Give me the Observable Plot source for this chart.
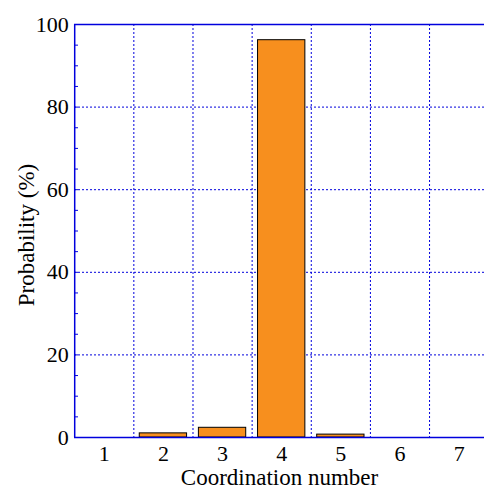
<!DOCTYPE html>
<html>
<head>
<meta charset="utf-8">
<script src="https://cdn.jsdelivr.net/npm/d3@7"></script>
<script src="https://cdn.jsdelivr.net/npm/@observablehq/plot@0.6"></script>
<style>
  html, body { margin: 0; padding: 0; background: #fff; }
  svg { display: block; }
</style>
</head>
<body>
<div id="chart"></div>
<script>
const coordination = [1, 2, 3, 4, 5, 6, 7];
const probability = [0, 1.0, 2.35, 96.2, 0.7, 0, 0];
const yMajorTicks = [0, 20, 40, 60, 80, 100];
const yMinorTicks = d3.range(0, 101, 5);
const xGrid = [1.5, 2.5, 3.5, 4.5, 5.5, 6.5];
const yGrid = [20, 40, 60, 80];
const xTitle = "Coordination number";
const yTitle = "Probability (%)";

const data = coordination.map((n, i) => ({n, p: probability[i]}));
const blue = "#0000dd";
const serif = "'Liberation Serif', 'Times New Roman', serif";

const chart = Plot.plot({
  width: 484,
  height: 488,
  marginTop: 24,
  marginBottom: 51,
  marginLeft: 74,
  marginRight: 0,
  style: {color: "#000", background: "#fff", fontFamily: serif},
  x: {type: "linear", domain: [0.5, 7.5], range: [74.2, 488.2], axis: null},
  y: {domain: [0, 100], range: [437, 24]},
  marks: [
    Plot.ruleX(xGrid, {stroke: blue, strokeDasharray: "2,2", strokeWidth: 1}),
    Plot.ruleY(yGrid, {stroke: blue, strokeDasharray: "2,2", strokeWidth: 1}),
    Plot.rectY(data, {x1: d => d.n - 0.4, x2: d => d.n + 0.4, y1: 0, y2: "p", fill: "#f78f1e", stroke: "#000", strokeWidth: 1}),
    Plot.axisY(yMinorTicks, {tickSize: -4, text: null, stroke: blue, label: null}),
    Plot.text(yMajorTicks, {x: 0.5, y: d => d, text: d => String(d), textAnchor: "end", dx: -6, fontSize: 22, fill: "#000", fontFamily: serif}),
    Plot.text(coordination, {x: d => d, y: 0, text: d => String(d), lineAnchor: "top", dy: 8, fontSize: 22, fill: "#000", fontFamily: serif}),
    Plot.text([xTitle], {frameAnchor: "bottom", dy: 47, lineAnchor: "bottom", fontSize: 23, fill: "#000", fontFamily: serif}),
    Plot.text([yTitle], {frameAnchor: "left", textAnchor: "middle", dx: -41, dy: 4, rotate: -90, lineAnchor: "bottom", fontSize: 23, fill: "#000", fontFamily: serif}),
    Plot.ruleX([0.5], {stroke: blue, strokeWidth: 1.5}),
    Plot.ruleY([0, 100], {stroke: blue, strokeWidth: 1.5})
  ]
});
document.getElementById("chart").appendChild(chart);
</script>
</body>
</html>
